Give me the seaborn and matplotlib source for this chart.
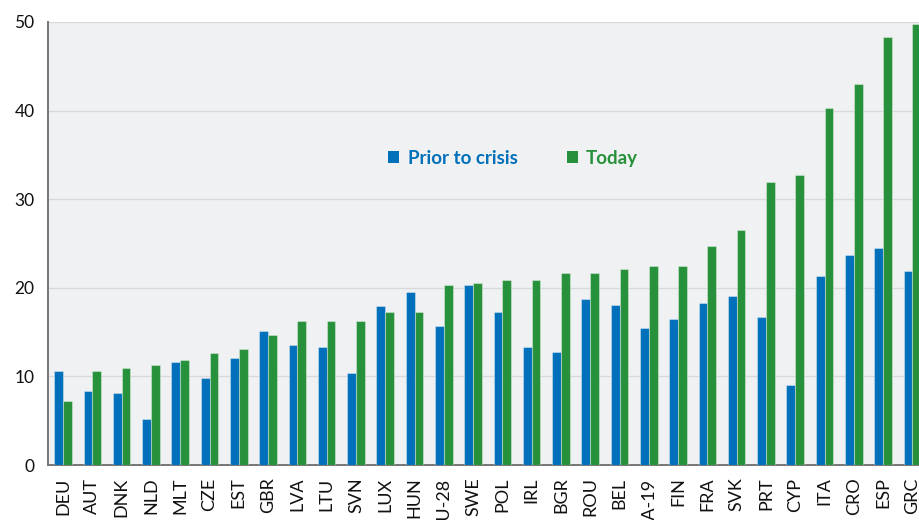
import matplotlib
matplotlib.use("Agg")
import matplotlib.pyplot as plt
from matplotlib.patches import Patch
import seaborn as sns
import pandas as pd
import numpy as np

countries = ["DEU", "AUT", "DNK", "NLD", "MLT", "CZE", "EST", "GBR", "LVA", "LTU",
             "SVN", "LUX", "HUN", "EU-28", "SWE", "POL", "IRL", "BGR", "ROU", "BEL",
             "EA-19", "FIN", "FRA", "SVK", "PRT", "CYP", "ITA", "CRO", "ESP", "GRC"]
prior = [10.6, 8.4, 8.1, 5.2, 11.6, 9.8, 12.1, 15.1, 13.6, 13.3,
         10.4, 17.9, 19.5, 15.7, 20.3, 17.3, 13.3, 12.7, 18.7, 18.1,
         15.5, 16.5, 18.3, 19.1, 16.7, 9.0, 21.3, 23.7, 24.5, 21.9]
today = [7.2, 10.6, 10.9, 11.3, 11.9, 12.6, 13.1, 14.7, 16.3, 16.3,
         16.3, 17.3, 17.3, 20.3, 20.5, 20.9, 20.9, 21.7, 21.7, 22.1,
         22.5, 22.5, 24.7, 26.5, 31.9, 32.7, 40.3, 43.0, 48.3, 49.8]
series_names = ["Prior to crisis", "Today"]
y_ticks = [0, 10, 20, 30, 40, 50]

BLUE = "#0070BA"
GREEN = "#26913A"

df = pd.DataFrame({
    "country": countries * 2,
    "value": prior + today,
    "period": [series_names[0]] * len(countries) + [series_names[1]] * len(countries),
})

sns.set_theme(style="white")
plt.rcParams["font.family"] = ["Lato", "DejaVu Sans"]

fig = plt.figure(figsize=(9.2, 5.2), dpi=100)
ax = fig.add_axes([48.5 / 920, 55 / 520, (927 - 48.5) / 920, 443 / 520])
ax.set_facecolor("#F0F1F3")

sns.barplot(data=df, x="country", y="value", hue="period", order=countries,
            hue_order=series_names, palette=[BLUE, GREEN], width=0.6, gap=0,
            saturation=1, edgecolor=(1, 1, 1, 0.35), linewidth=0.8,
            legend=False, ax=ax, zorder=3)

ax.set_xlim(-0.5, len(countries) - 0.5)
ax.set_ylim(0, 50)
ax.set_yticks(y_ticks)
ax.set_xlabel("")
ax.set_ylabel("")

ax.yaxis.grid(True, color="#D8D9DC", linewidth=1, zorder=0)
ax.set_axisbelow(True)

for s in ["top", "right"]:
    ax.spines[s].set_visible(False)
for s in ["left", "bottom"]:
    ax.spines[s].set_color("#767676")
    ax.spines[s].set_linewidth(1.4)

ax.set_xticks(np.arange(len(countries)))
ax.set_xticklabels(countries, rotation=90, fontsize=13, color="#111111")
ax.set_xticks(np.arange(-0.5, len(countries), 1.0), minor=True)
ax.tick_params(axis="x", which="major", length=0, pad=9)
ax.tick_params(axis="x", which="minor", length=6.5, width=1, color="#8A8A8A", direction="out")
ax.tick_params(axis="y", which="major", length=6, width=1, color="#8A8A8A",
               labelsize=12.5, labelcolor="#111111", pad=4)

handles = [Patch(facecolor=BLUE, edgecolor="none"), Patch(facecolor=GREEN, edgecolor="none")]
leg = ax.legend(handles, series_names, loc="center", bbox_to_anchor=(0.529, 0.693),
                ncol=2, frameon=False, handlelength=0.6, handleheight=0.6,
                handletextpad=0.45, columnspacing=2.6,
                prop={"weight": "bold", "size": 13.5, "family": ["Lato", "DejaVu Sans"]},
                labelcolor=[BLUE, GREEN])

fig.savefig("out.png", dpi=100)
